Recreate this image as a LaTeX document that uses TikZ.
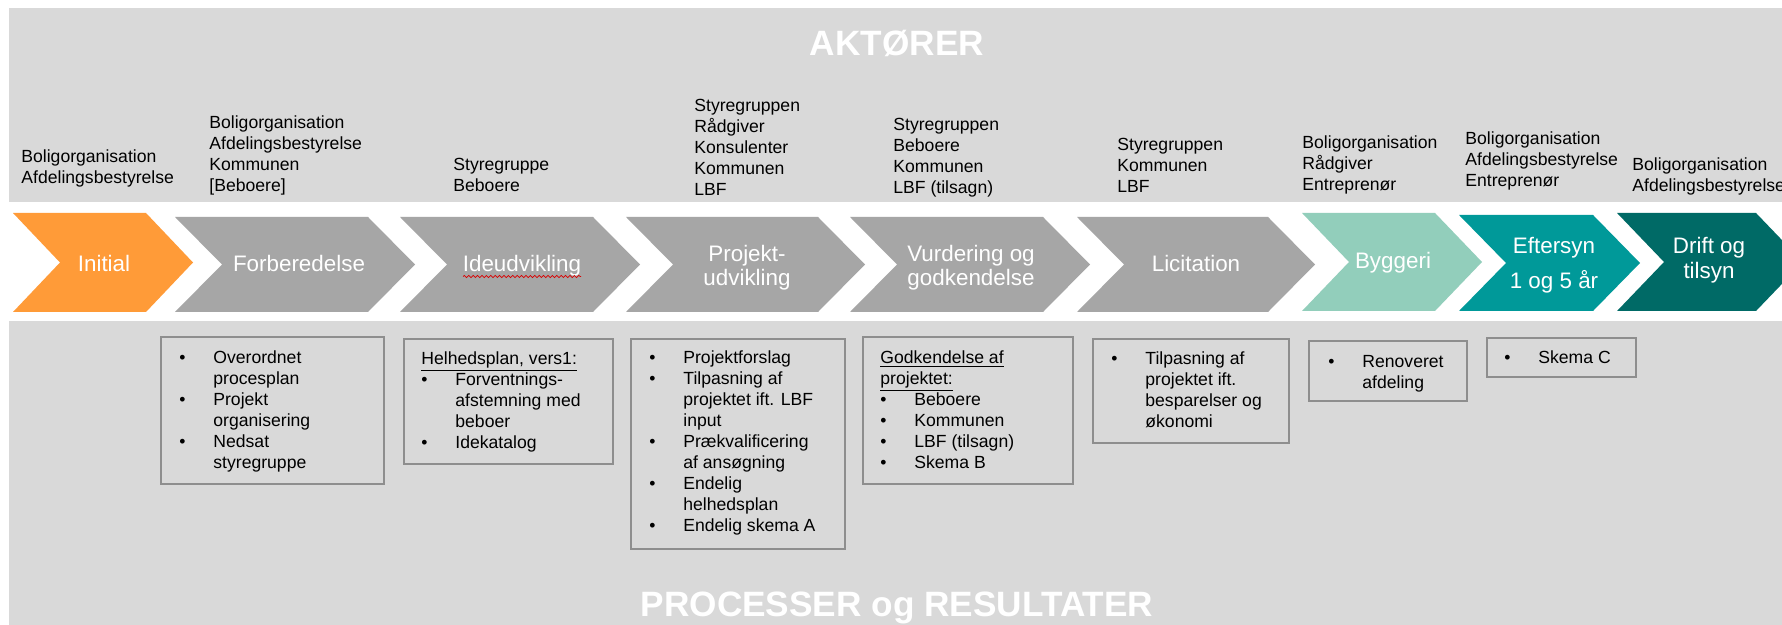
\documentclass[tikz,border=0pt]{standalone}
\usepackage{fontspec}
\setmainfont{Liberation Sans}
\usetikzlibrary{fit,decorations.pathmorphing}

\definecolor{bgpanel}{HTML}{D9D9D9}
\definecolor{chgray}{HTML}{A6A6A6}
\definecolor{chorange}{HTML}{FF9B38}
\definecolor{chlteal}{HTML}{92CEBB}
\definecolor{chteal}{HTML}{009999}
\definecolor{chdteal}{HTML}{006A66}
\definecolor{boxline}{HTML}{8E8E8E}

\newcommand\bi[1]{\makebox[17pt][l]{\textbullet}#1}
\newcommand\ci[1]{\hspace*{17pt}#1}
\newcommand\tstr{\rule{0pt}{0.82em}}
% chevron: colour, left, tip, top, bottom
\newcommand\chev[5]{%
  \fill[#1] (#2,#4) -- ({#3-47},#4) -- (#3,{(#4+#5)/2}) -- ({#3-47},#5)
    -- (#2,#5) -- ({#2+47},{(#4+#5)/2}) -- cycle;}

\tikzset{
  actor/.style={font=\fontsize{8.8}{10.5}\selectfont, align=left, anchor=north west, inner sep=0pt},
  restext/.style={font=\fontsize{8.8}{10.5}\selectfont, align=left, anchor=north west, inner sep=0pt},
  resbox/.style={draw=boxline, line width=0.6pt, inner sep=0pt},
  chtext/.style={text=white, font=\fontsize{11.2}{12}\selectfont, align=center, anchor=north, inner sep=0pt},
  title/.style={text=white, font=\fontsize{17.6}{20}\selectfont\bfseries, anchor=base, inner sep=0pt}
}

\begin{document}
\begin{tikzpicture}[x=0.5pt,y=-0.5pt]
\useasboundingbox (0,0) rectangle (1782,625);
\fill[white] (0,0) rectangle (1782,625);
% panels
\fill[bgpanel] (9,8) rectangle (1782,202);
\fill[bgpanel] (9,321) rectangle (1782,625);

% titles
\node[title] (aktorer) at (897,56) {AKTØRER};
\node[title] (processer) at (897,616) {PROCESSER og RESULTATER};

% chevrons
\chev{chorange}{13}{193}{213}{312}
\chev{chgray}{175}{415}{217}{312}
\chev{chgray}{400}{640}{217}{312}
\chev{chgray}{626}{865}{217}{312}
\chev{chgray}{850}{1090}{217}{312}
\chev{chgray}{1077}{1315}{217}{312}
\chev{chlteal}{1302}{1482}{213}{311}
\chev{chteal}{1459}{1640}{215}{311}
\chev{chdteal}{1617}{1803}{213}{311}

% chevron texts
\node[chtext] (t1) at (104,252.6) {\tstr Initial};
\node[chtext] (t2) at (299,252.6) {\tstr Forberedelse};
\node[chtext] (t3) at (522,252.6) {\tstr Ideudvikling};
\draw[red!85!black, line width=0.35pt, decorate, decoration={snake, amplitude=0.55pt, segment length=2.2pt}] (463,276.5) -- (581,276.5);
\node[chtext] (t4) at (747,242.6) {\tstr Projekt-\\udvikling};
\node[chtext] (t5) at (971,242.6) {\tstr Vurdering og\\godkendelse};
\node[chtext] (t6) at (1196,252.6) {\tstr Licitation};
\node[chtext] (t7) at (1393,249.6) {\tstr Byggeri};
\node[chtext, font=\fontsize{11.2}{17.5}\selectfont] (t8) at (1554,234.6) {\tstr Eftersyn\\1 og 5 år};
\node[chtext, font=\fontsize{11.2}{12.5}\selectfont] (t9) at (1709,234.6) {\tstr Drift og\\tilsyn};

% actors
\node[actor] (a1) at (21,147.6) {\tstr Boligorganisation\\Afdelingsbestyrelse};
\node[actor] (a2) at (209,113.6) {\tstr Boligorganisation\\Afdelingsbestyrelse\\Kommunen\\ {[Beboere]}};
\node[actor] (a3) at (453,155.6) {\tstr Styregruppe\\Beboere};
\node[actor] (a4) at (694,96.6) {\tstr Styregruppen\\Rådgiver\\Konsulenter\\Kommunen\\LBF};
\node[actor] (a5) at (893,115.6) {\tstr Styregruppen\\Beboere\\Kommunen\\LBF (tilsagn)};
\node[actor] (a6) at (1117,135.6) {\tstr Styregruppen\\Kommunen\\LBF};
\node[actor] (a7) at (1302,133.6) {\tstr Boligorganisation\\Rådgiver\\Entreprenør};
\node[actor] (a8) at (1465,129.6) {\tstr Boligorganisation\\Afdelingsbestyrelse\\Entreprenør};
\node[actor] (a9) at (1632,155.6) {\tstr Boligorganisation\\Afdelingsbestyrelse};

% result boxes
\node[resbox, fit={(161,337) (384,484)}] (b1) {};
\node[resbox, fit={(404,339) (613,464)}] (b2) {};
\node[resbox, fit={(631,339) (845,549)}] (b3) {};
\node[resbox, fit={(863,337) (1073,484)}] (b4) {};
\node[resbox, fit={(1093,339) (1289,443)}] (b5) {};
\node[resbox, fit={(1309,341) (1467,401)}] (b6) {};
\node[resbox, fit={(1487,338) (1636,377)}] (b7) {};

\node[restext] (r1) at (179,348.6) {\tstr\bi{Overordnet}\\ \ci{procesplan}\\ \bi{Projekt}\\ \ci{organisering}\\ \bi{Nedsat}\\ \ci{styregruppe}};
\node[restext] (r2) at (421,349.6) {\tstr\underline{Helhedsplan, vers1:}\\ \bi{Forventnings-}\\ \ci{afstemning med}\\ \ci{beboer}\\ \bi{Idekatalog}};
\node[restext] (r3) at (649,348.6) {\tstr\bi{Projektforslag}\\ \bi{Tilpasning af}\\ \ci{projektet ift. LBF}\\ \ci{input}\\ \bi{Prækvalificering}\\ \ci{af ansøgning}\\ \bi{Endelig}\\ \ci{helhedsplan}\\ \bi{Endelig skema A}};
\node[restext] (r4) at (880,348.6) {\tstr\underline{Godkendelse af}\\ \underline{projektet:}\\ \bi{Beboere}\\ \bi{Kommunen}\\ \bi{LBF (tilsagn)}\\ \bi{Skema B}};
\node[restext] (r5) at (1111,349.6) {\tstr\bi{Tilpasning af}\\ \ci{projektet ift.}\\ \ci{besparelser og}\\ \ci{økonomi}};
\node[restext] (r6) at (1328,352.6) {\tstr\bi{Renoveret}\\ \ci{afdeling}};
\node[restext] (r7) at (1504,348.6) {\tstr\bi{Skema C}};
\end{tikzpicture}
\end{document}
